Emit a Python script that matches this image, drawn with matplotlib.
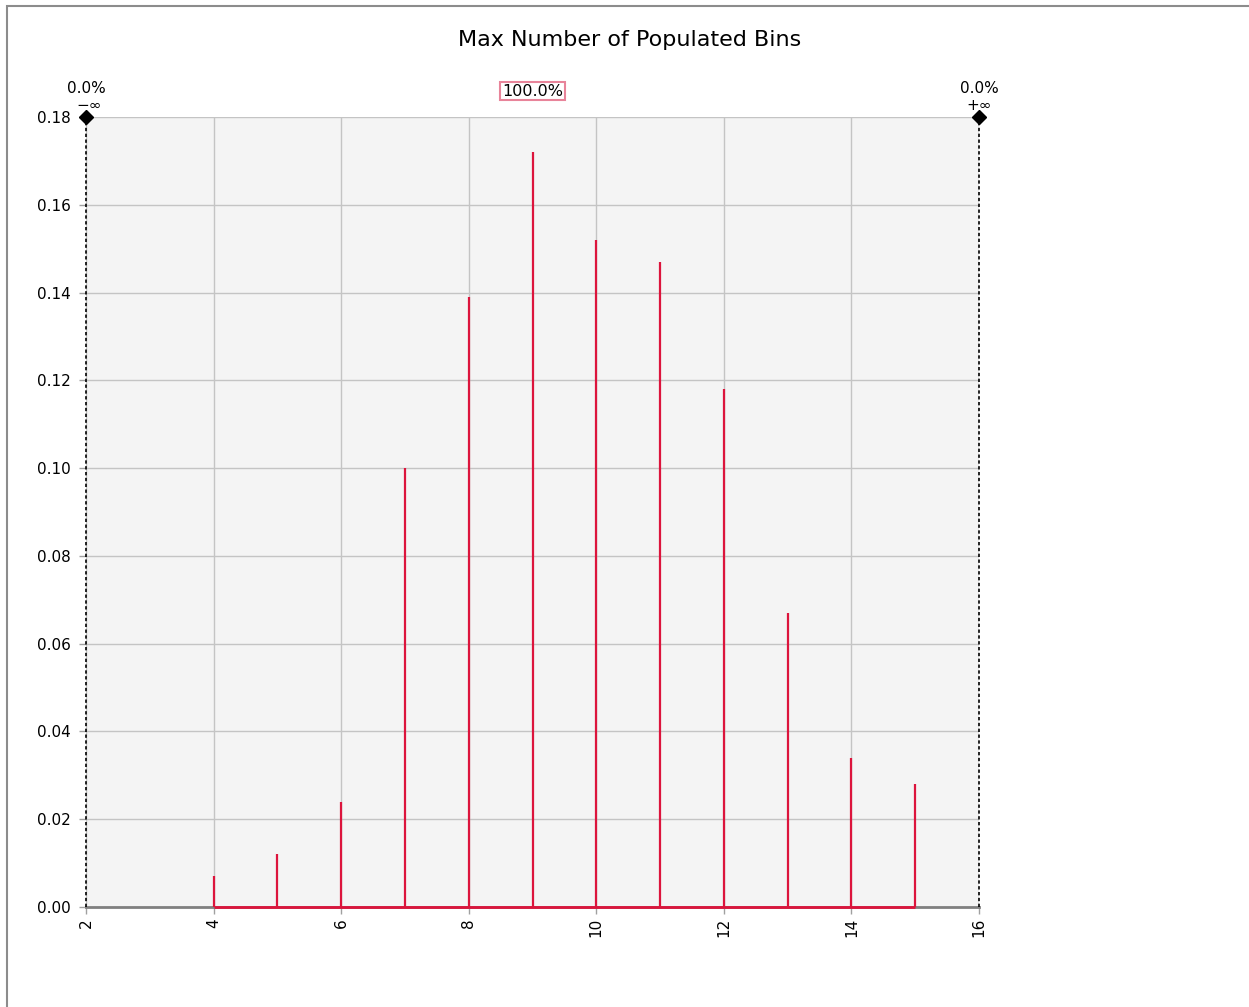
import matplotlib
matplotlib.use("Agg")
import matplotlib.pyplot as plt
from matplotlib.patches import Rectangle
import numpy as np

title = "Max Number of Populated Bins"
x_vals = [4, 5, 6, 7, 8, 9, 10, 11, 12, 13, 14, 15]
probs = [0.007, 0.012, 0.024, 0.100, 0.139, 0.172, 0.152, 0.147, 0.118, 0.067, 0.034, 0.028]
x_ticks = [2, 4, 6, 8, 10, 12, 14, 16]
y_ticks = [0.00, 0.02, 0.04, 0.06, 0.08, 0.10, 0.12, 0.14, 0.16, 0.18]
left_bound, right_bound = 2, 16
left_pct, mid_pct, right_pct = "0.0%", "100.0%", "0.0%"
mid_x = 9

plt.rcParams['font.family'] = ['DejaVu Sans']

W, H = 1249, 1007
fig = plt.figure(figsize=(W / 100, H / 100), dpi=100)
fig.patch.set_facecolor("white")

# outer frame
fig.add_artist(Rectangle((7 / W, -0.05), 1.2, (H - 6) / H + 0.05, transform=fig.transFigure,
                         fill=False, edgecolor="#8c8c8c", linewidth=1.5))

ax = fig.add_axes([86 / W, 100 / H, 893 / W, 790 / H])
ax.set_facecolor("#f4f4f4")
ax.set_xlim(left_bound, right_bound)
ax.set_ylim(0, 0.18)
ax.set_xticks(x_ticks)
ax.set_yticks(y_ticks)
ax.set_yticklabels([f"{v:.2f}" for v in y_ticks], fontsize=11)
ax.set_xticklabels([str(v) for v in x_ticks], fontsize=11, rotation=90)
ax.grid(True, color="#c4c4c4", linewidth=1.0)
ax.set_axisbelow(True)
for s in ["top", "right", "left"]:
    ax.spines[s].set_visible(False)
ax.spines["bottom"].set_color("#808080")
ax.spines["bottom"].set_linewidth(2)
ax.tick_params(axis="both", colors="#a0a0a0", labelcolor="black", length=5, width=1)
ax.tick_params(axis="y", pad=6)
ax.tick_params(axis="x", pad=3)

red = "#dc143c"
ax.vlines(x_vals, 0, probs, colors=red, linewidth=1.6, zorder=3)
ax.hlines(0, x_vals[0], x_vals[-1], colors=red, linewidth=2, zorder=4, clip_on=False)

# bounds
for xb in [left_bound, right_bound]:
    ax.plot([xb, xb], [0, 0.18], color="black", linestyle=(0, (2, 1.5)), linewidth=1.2,
            clip_on=False, zorder=5)
    ax.plot([xb], [0.18], marker="D", color="black", markersize=7, clip_on=False, zorder=6)

ax.annotate(left_pct, (left_bound, 0.18), xytext=(0, 20.5), textcoords="offset points",
            ha="center", va="center", fontsize=11)
ax.annotate("\u2212\u221e", (left_bound, 0.18), xytext=(2, 8.5), textcoords="offset points",
            ha="center", va="center", fontsize=11)
ax.annotate(right_pct, (right_bound, 0.18), xytext=(0, 20.5), textcoords="offset points",
            ha="center", va="center", fontsize=11)
ax.annotate("+\u221e", (right_bound, 0.18), xytext=(0, 8.5), textcoords="offset points",
            ha="center", va="center", fontsize=11)
ax.annotate(mid_pct, (mid_x, 0.18), xytext=(0, 18.5), textcoords="offset points",
            ha="center", va="center", fontsize=11.5,
            bbox=dict(boxstyle="square,pad=0.1", facecolor="white", edgecolor="#e8849a", linewidth=1.5))

fig.text(630 / W, 1 - 40 / H, title, ha="center", va="center", fontsize=16)

fig.savefig("out.png", dpi=100)
